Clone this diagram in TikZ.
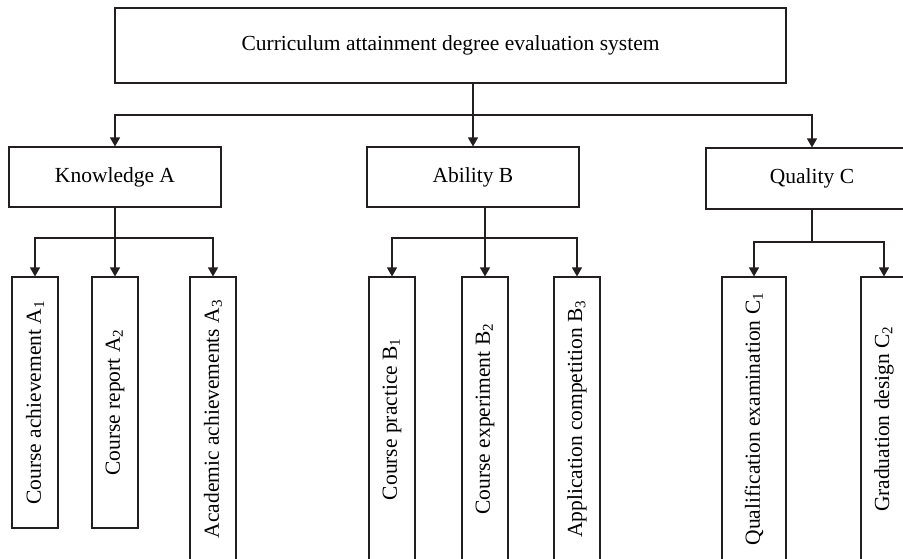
\documentclass[tikz,border=0pt]{standalone}
\usepackage{fontspec}
\setmainfont{Liberation Serif}
\usepackage{tikz}
\usetikzlibrary{arrows.meta}
\usetikzlibrary{positioning}
\definecolor{fc-line}{HTML}{231F20}
\tikzset{
  box/.style={draw=fc-line, line width=1.1pt, inner sep=0pt, align=center, font=\fontsize{21.5}{25}\selectfont},
  leaf/.style={box, rotate=90, minimum width=284pt, minimum height=46pt},
  link/.style={draw=fc-line, line width=1.2pt},
  arr/.style={link, -{Triangle[width=10pt,length=9pt]}}
}
\begin{document}
\begin{tikzpicture}[x=1pt, y=-1pt]
        \useasboundingbox (0,0) rectangle (903,558);
        \clip (0,0) rectangle (903,558);
        \node[box, minimum width=671pt, minimum height=75pt] (sys) at (450.5,45.5) {Curriculum attainment degree evaluation system};
        \node[box, minimum width=212pt, minimum height=60pt] (know) at (115,177) {Knowledge A};
        \node[box, minimum width=212pt, minimum height=60pt] (abil) at (473,177) {Ability B};
        \node[box, minimum width=212pt, minimum height=61pt] (qual) at (812,178.5) {Quality C};
        \node[leaf, minimum width=251pt] (a1) at (35,402.5) {Course achievement A\textsubscript{1}};
        \node[leaf, minimum width=251pt] (a2) at (115,402.5) {Course report A\textsubscript{2}};
        \node[leaf] (a3) at (213,419) {Academic achievements A\textsubscript{3}};
        \node[leaf] (b1) at (392,419) {Course practice B\textsubscript{1}};
        \node[leaf] (b2) at (485,419) {Course experiment B\textsubscript{2}};
        \node[leaf] (b3) at (577,419) {Application competition B\textsubscript{3}};
        \node[leaf, minimum height=64pt] (c1) at (754,419) {Qualification examination C\textsubscript{1}};
        \node[leaf] (c2) at (884,419) {Graduation design C\textsubscript{2}};
        \coordinate (hub) at (473,115);
        \coordinate (hubA) at (115,238);
        \coordinate (hubB) at (485,238);
        \coordinate (hubC) at (812,242);
        \draw[link] (sys.south -| hub) -- (hub);
        \draw[arr] (hub) -| (know.north);
        \draw[arr] (hub) -- (abil.north);
        \draw[arr] (hub) -| (qual.north);
        \draw[link] (know.south) -- (hubA);
        \draw[arr] (hubA) -| (a1.east);
        \draw[arr] (hubA) -- (a2.east);
        \draw[arr] (hubA) -| (a3.east);
        \draw[link] (abil.south -| hubB) -- (hubB);
        \draw[arr] (hubB) -| (b1.east);
        \draw[arr] (hubB) -- (b2.east);
        \draw[arr] (hubB) -| (b3.east);
        \draw[link] (qual.south) -- (hubC);
        \draw[arr] (hubC) -| (c1.east);
        \draw[arr] (hubC) -| (c2.east);
\end{tikzpicture}
\end{document}
